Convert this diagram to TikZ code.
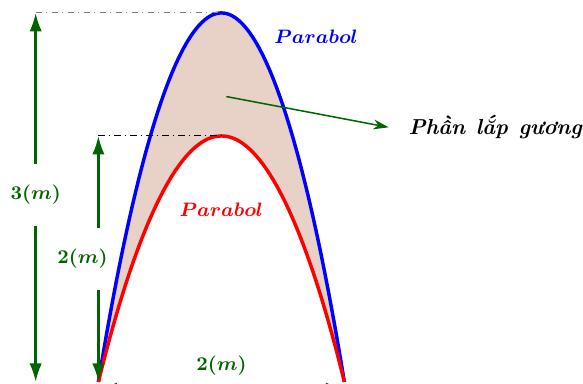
\documentclass[tikz,border=0pt]{standalone}
\usepackage{amsmath,amssymb}
\usepackage{fontspec}
\usepackage{xcolor}
\usepackage{tikz}
\usetikzlibrary{arrows.meta}

\definecolor{dimgreen}{RGB}{0,100,0}
\definecolor{lapfill}{RGB}{232,210,200}

\begin{document}
\begin{tikzpicture}[
    x=2cm, y=2cm,
    every node/.style={font=\small, align=center},
    curve/.style={line width=1.6pt},
    guide/.style={dash dot, line width=0.5pt},
    dimline/.style={-{Latex[length=3mm, width=2mm]}, dimgreen, line width=1.1pt},
    dimboth/.style={{Latex[length=3mm, width=2mm]}-{Latex[length=3mm, width=2mm]}, dimgreen, line width=1.1pt},
    dimlabel/.style={text=dimgreen, minimum height=1cm, inner sep=0pt},
    pointer/.style={-{Stealth[length=2.5mm, width=1.6mm]}, dimgreen, line width=0.7pt}
]
\useasboundingbox (-1.8,-0.01) rectangle (2.94,3.105);

\coordinate (A)  at (-1,0);
\coordinate (B)  at (1,0);
\coordinate (S)  at (0,3);
\coordinate (T)  at (0,2);
\coordinate (H3) at (-1.51,3);
\coordinate (H0) at (-1.51,0);
\coordinate (H2) at (-1,2);
\coordinate (W1) at (-1,-0.055);
\coordinate (W2) at (1,-0.055);
\coordinate (P)  at (0.04,2.32);

\fill[lapfill] (A) parabola bend (S) (B) parabola bend (T) (A) -- cycle;
\draw[blue, curve] (A) parabola bend (S) (B);
\draw[red, curve]  (A) parabola bend (T) (B);

\draw[guide, gray]  (H3) -- (S);
\draw[guide, black] (H2) -- (T);

\node (blue lbl) [text=blue] at (0.77,2.81) {$\boldsymbol{Parabol}$};
\node (red lbl)  [text=red]  at (0,1.40)    {$\boldsymbol{Parabol}$};

\node (h3) [dimlabel] at (-1.51,1.52) {$\boldsymbol{3(m)}$};
\draw [dimline] (h3) -- (H3);
\draw [dimline] (h3) -- (H0);

\node (h2) [dimlabel] at (-1.13,1.0) {$\boldsymbol{2(m)}$};
\draw [dimline] (h2.north -| A) -- (H2);
\draw [dimline] (h2.south -| A) -- (A);

\node (w) [text=dimgreen] at (0,0.13) {$\boldsymbol{2(m)}$};
\draw [dimboth] (W1) -- (W2);

\node (lap) [anchor=west, inner xsep=9pt, font=\normalsize] at (1.36,2.07)
    {\bfseries\itshape Phần\hspace{0.5em}lắp\hspace{0.5em}gương};
\draw [pointer] (P) -- (lap.west);
\end{tikzpicture}
\end{document}
